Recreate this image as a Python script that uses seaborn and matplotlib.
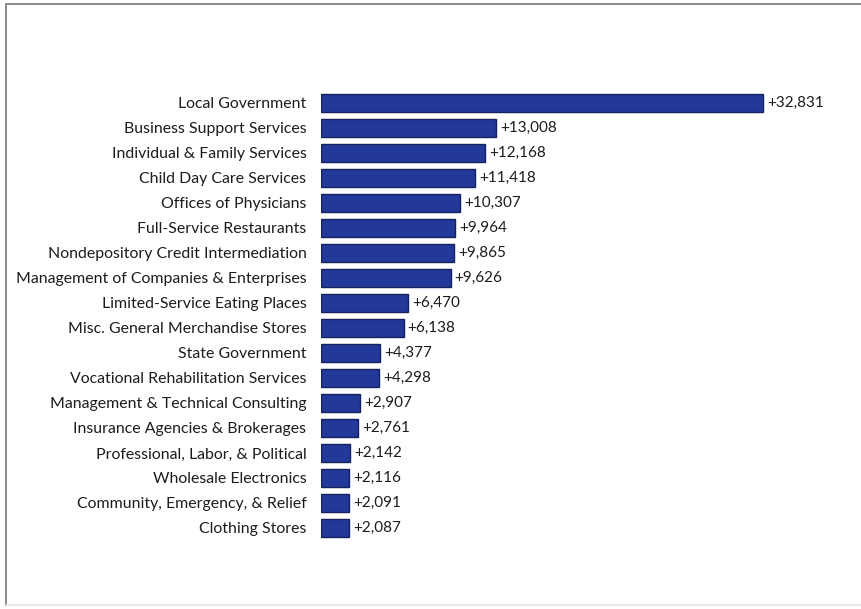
import matplotlib
matplotlib.use("Agg")
import matplotlib.pyplot as plt
import seaborn as sns
import pandas as pd
from matplotlib.lines import Line2D

industries = [
    "Local Government",
    "Business Support Services",
    "Individual & Family Services",
    "Child Day Care Services",
    "Offices of Physicians",
    "Full-Service Restaurants",
    "Nondepository Credit Intermediation",
    "Management of Companies & Enterprises",
    "Limited-Service Eating Places",
    "Misc. General Merchandise Stores",
    "State Government",
    "Vocational Rehabilitation Services",
    "Management & Technical Consulting",
    "Insurance Agencies & Brokerages",
    "Professional, Labor, & Political",
    "Wholesale Electronics",
    "Community, Emergency, & Relief",
    "Clothing Stores",
]
job_change = [32831, 13008, 12168, 11418, 10307, 9964, 9865, 9626, 6470,
              6138, 4377, 4298, 2907, 2761, 2142, 2116, 2091, 2087]

df = pd.DataFrame({"industry": industries, "change": job_change})

sns.set_theme(style="white")
plt.rcParams["font.family"] = ["Lato", "DejaVu Sans"]

fig = plt.figure(figsize=(8.61, 6.09), dpi=100)
fig.patch.set_facecolor("white")
ax = fig.add_axes([0.3728, 0.1125, 0.6150, 0.7389])

sns.barplot(data=df, x="change", y="industry", orient="h", width=0.72,
            color="#22399a", edgecolor="#14215e", linewidth=1.0,
            saturation=1, ax=ax)

ax.set_xlim(0, 39300)
ax.set_xlabel("")
ax.set_ylabel("")
ax.set_xticks([])
for s in ax.spines.values():
    s.set_visible(False)
ax.tick_params(axis="y", length=0, pad=10.5, labelsize=11.4, labelcolor="#1c1c1c")

for bar, v in zip(ax.patches, job_change):
    ax.text(bar.get_width() + 300, bar.get_y() + bar.get_height() / 2,
            f"+{v:,}", va="center", ha="left", fontsize=11, color="#1c1c1c")

# outer frame: top and left rules, faint bottom rule
x0, ytop, ybot = 6 / 861, 1 - 4 / 609, 1 - 605 / 609
fig.add_artist(Line2D([x0, 1], [ytop, ytop], transform=fig.transFigure,
                      color="#8a8a8a", linewidth=1.4))
fig.add_artist(Line2D([x0, x0], [ybot, ytop], transform=fig.transFigure,
                      color="#8a8a8a", linewidth=1.4))
fig.add_artist(Line2D([x0, 1], [ybot, ybot], transform=fig.transFigure,
                      color="#e4e4e4", linewidth=1.2))

fig.savefig("out.png", dpi=100, facecolor="white")
